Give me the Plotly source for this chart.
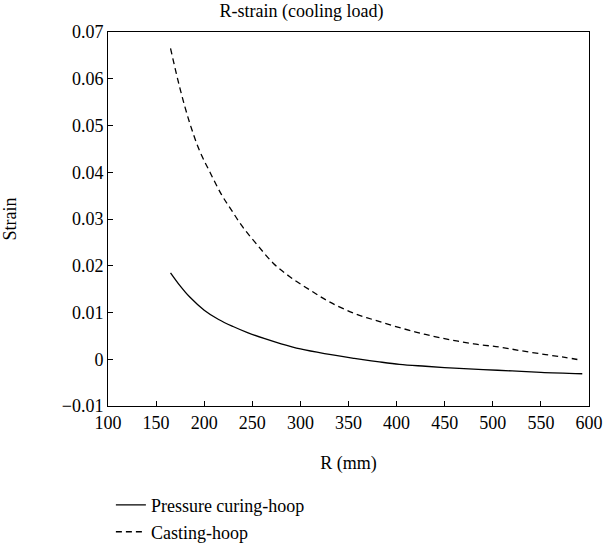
import plotly.graph_objects as go

r_solid = [165, 175, 185, 200, 215, 230, 245, 263, 280, 300, 325, 356, 380, 403, 430, 460, 490, 520, 550, 593]
strain_solid = [0.0185, 0.0157, 0.0133, 0.0105, 0.0085, 0.0070, 0.0057, 0.0044, 0.0033, 0.0022, 0.0012, 0.0002,
                -0.0005, -0.0011, -0.0015, -0.0019, -0.0022, -0.0025, -0.0028, -0.0031]

r_dash = [165, 175, 185, 195, 206, 218, 228, 240, 255, 272, 290, 310, 330, 356, 380, 406, 430, 455, 480, 507,
          530, 555, 575, 592]
strain_dash = [0.0665, 0.0578, 0.0505, 0.0447, 0.0400, 0.0352, 0.0320, 0.0283, 0.0245, 0.0205, 0.0175, 0.0148,
               0.0123, 0.0098, 0.0082, 0.0066, 0.0053, 0.0042, 0.0033, 0.0026, 0.0018, 0.0010, 0.0004, -0.0002]

x_ticks = [100, 150, 200, 250, 300, 350, 400, 450, 500, 550, 600]
y_ticks = [-0.01, 0, 0.01, 0.02, 0.03, 0.04, 0.05, 0.06, 0.07]
y_labels = ["\u22120.01", "0", "0.01", "0.02", "0.03", "0.04", "0.05", "0.06", "0.07"]

FONT = "Liberation Serif"
FS = 18

fig = go.Figure()
fig.add_trace(go.Scatter(x=r_solid, y=strain_solid, mode="lines", name="Pressure curing-hoop",
                         line=dict(color="black", width=1.3, shape="spline"), legend="legend",
                         showlegend=True))
fig.add_trace(go.Scatter(x=r_dash, y=strain_dash, mode="lines", name="Casting-hoop",
                         line=dict(color="black", width=1.3, dash="6px,4px", shape="spline"), legend="legend2",
                         showlegend=True))

axis_common = dict(showline=True, linecolor="black", linewidth=1, mirror=True, ticks="inside",
                   ticklen=5, tickcolor="black", showgrid=False, zeroline=False, automargin=False,
                   tickfont=dict(family=FONT, size=FS, color="black"))

fig.update_layout(
    width=603, height=548,
    margin=dict(l=108, r=14, t=32, b=142, autoexpand=False),
    showlegend=True,
    plot_bgcolor="white", paper_bgcolor="white",
    font=dict(family=FONT, size=FS, color="black"),
    title=dict(text="R-strain (cooling load)", x=0.5, xref="container", xanchor="center",
               y=1, yref="container", yanchor="top", pad=dict(t=4),
               font=dict(family=FONT, size=FS, color="black")),
    xaxis=dict(range=[100, 600], tickvals=x_ticks, title=dict(text="R (mm)", standoff=24,
               font=dict(family=FONT, size=FS)), **axis_common),
    yaxis=dict(range=[-0.01, 0.07], tickvals=y_ticks, ticktext=y_labels,
               title=dict(text="Strain", standoff=44, font=dict(family=FONT, size=FS)), **axis_common),
    legend=dict(x=0.006, xanchor="left", y=-0.265, yanchor="middle", xref="paper", yref="paper",
                bgcolor="rgba(0,0,0,0)", font=dict(family=FONT, size=FS), itemwidth=30),
    legend2=dict(x=0.006, xanchor="left", y=-0.337, yanchor="middle", xref="paper", yref="paper",
                 bgcolor="rgba(0,0,0,0)", font=dict(family=FONT, size=FS), itemwidth=30),
)

fig.write_html("out.html")
